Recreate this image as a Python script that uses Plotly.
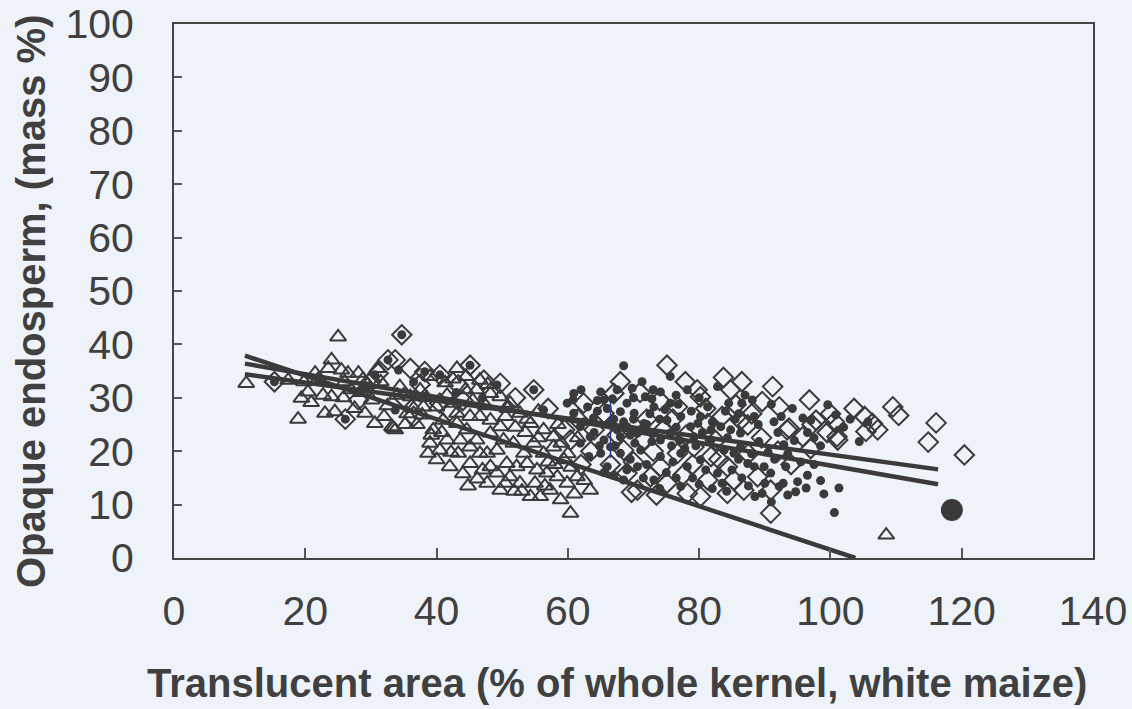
import plotly.graph_objects as go

# ---- data ----
tri_x = [11.0, 17.4, 18.9, 19.4, 20.4, 20.9, 21.5, 22.7, 23.0, 24.0, 24.0, 24.5, 25.0, 25.5, 26.5, 28.1,
         29.1, 30.1, 30.6, 33.2, 27.0, 28.5, 31.5, 32.5, 34.0, 33.7, 22.0, 25.8, 27.5, 29.5, 31.0, 26.0,
         23.5, 19.8,
         34.4, 36.0, 37.5, 38.0, 40.0, 41.6, 43.1, 44.4, 46.1, 46.6, 48.2, 49.7, 43.1, 43.1, 41.0, 45.1,
         46.6, 48.2, 49.7, 48.2, 44.6, 46.1, 43.6, 41.6, 39.0, 38.7, 40.5, 40.0, 42.0, 43.3, 45.1, 45.1,
         46.6, 47.7, 48.2, 47.7, 49.2, 49.7, 49.2, 50.2, 50.7, 51.2, 52.7, 52.2, 53.3, 51.7, 53.8, 54.3,
         55.8, 55.3, 54.8, 56.3, 57.8, 56.8, 57.3, 58.4, 58.9, 59.4, 57.8, 56.3, 54.3, 52.7, 51.2, 33.4,
         39.5, 42.5, 36.5, 60.4, 63.4, 61.4, 59.9, 61.0, 62.5, 58.0, 55.0, 53.0, 50.5, 47.0, 44.0, 39.2,
         37.0, 35.5, 41.3, 39.0, 47.5, 50.5, 55.5, 58.5, 60.0, 61.5, 53.5, 45.5, 38.5,
         42.5, 44.5, 47.8, 50.8, 53.8, 52.0, 55.5, 57.0, 59.0, 60.5, 37.8, 40.8, 42.2, 44.8, 46.2, 51.8,
         56.5, 35.2, 32.0, 28.8, 108.5]
tri_y = [32.7, 33.3, 26.0, 29.9, 31.1, 29.1, 34.6, 30.5, 27.1, 37.1, 30.2, 27.4, 41.4, 35.2, 34.6, 34.6,
         27.1, 29.6, 25.2, 24.6, 31.5, 31.0, 33.0, 28.5, 30.5, 24.0, 33.5, 30.0, 28.0, 32.5, 35.5, 33.0,
         35.5, 33.0,
         32.1, 30.2, 31.5, 28.3, 28.3, 30.5, 35.5, 31.5, 31.5, 33.3, 30.8, 30.2, 27.1, 25.2, 25.8, 26.5,
         26.5, 25.8, 24.6, 23.4, 24.0, 22.1, 22.1, 22.1, 21.5, 19.6, 20.2, 18.4, 17.1, 19.6, 17.7, 20.8,
         19.6, 19.6, 17.1, 14.0, 15.9, 12.7, 20.2, 22.1, 17.7, 15.2, 14.0, 17.1, 19.6, 21.5, 17.7, 11.5,
         11.5, 16.5, 21.5, 19.6, 20.8, 15.9, 12.7, 15.2, 10.9, 18.4, 22.7, 24.0, 25.2, 27.1, 29.0, 24.3,
         24.0, 29.0, 28.0, 8.4, 12.7, 15.2, 14.0, 12.0, 14.5, 17.5, 14.0, 12.5, 14.0, 16.5, 15.8, 23.0,
         25.0, 27.0, 32.8, 34.0, 28.5, 26.5, 27.5, 25.0, 19.5, 22.5, 23.5, 29.5, 30.0,
         33.5, 34.0, 32.5, 28.0, 26.0, 24.5, 22.5, 18.0, 21.5, 17.0, 26.8, 23.5, 19.8, 13.5, 14.8, 12.5,
         13.5, 25.0, 26.5, 33.5, 4.3]

dia_x = [15.3, 26.1, 28.1, 31.1, 32.6, 33.7, 34.7, 36.0, 36.5, 38.2, 40.5, 43.3, 45.1, 47.2, 49.7, 54.8,
         30.0, 35.0, 40.5, 42.0, 44.0, 37.5, 52.0, 57.0, 59.5,
         60.4, 62.4, 65.5, 67.0, 64.0, 68.5, 69.0, 70.6, 71.6, 72.6, 74.1, 75.1, 75.1, 76.7, 76.7, 77.9,
         78.2, 79.2, 79.7, 80.2, 80.2, 81.3, 81.3, 81.8, 83.7, 83.5, 84.8, 85.6, 86.3, 87.4, 89.6, 91.2,
         92.2, 93.7, 95.8, 96.8, 97.8, 100.6, 101.1, 103.6, 105.2, 106.4, 107.2, 105.4, 109.5, 110.4,
         116.1, 114.9, 120.4, 90.9, 84.3, 85.3, 86.8, 90.9, 84.3, 88.9, 69.7, 73.0, 70.0, 66.5, 63.5,
         72.0, 74.5, 78.0, 82.5, 77.5, 79.0, 83.0, 87.5, 89.5, 88.0, 68.0, 71.0, 74.0, 86.5, 92.0, 94.0,
         97.0, 99.5, 61.5, 67.5, 76.0, 81.0, 73.5, 62.0, 101.0, 93.4, 97.2, 100.0]
dia_y = [33.0, 26.0, 29.6, 34.6, 37.1, 37.1, 41.8, 35.5, 26.5, 34.9, 34.3, 32.4, 36.1, 33.3, 32.7, 31.5,
         33.0, 30.0, 29.0, 27.5, 29.5, 32.5, 30.0, 28.0, 24.0,
         22.1, 29.0, 27.1, 30.8, 24.0, 20.2, 15.9, 12.7, 22.1, 15.2, 17.1, 14.0, 36.1, 19.6, 28.3, 33.0,
         12.1, 20.8, 31.5, 11.5, 30.2, 14.6, 25.2, 19.0, 33.8, 26.5, 31.5, 28.7, 25.8, 24.9, 29.3, 32.1,
         28.3, 24.3, 22.7, 29.6, 25.8, 25.5, 22.1, 28.0, 26.5, 25.2, 24.0, 23.7, 28.3, 26.7,
         25.3, 21.7, 19.3, 8.4, 17.1, 14.6, 12.7, 12.7, 12.1, 15.2, 12.3, 20.0, 18.0, 17.5, 20.0,
         26.0, 24.0, 23.0, 22.0, 15.5, 17.5, 18.5, 19.5, 22.5, 27.0, 33.0, 31.0, 29.5, 33.0, 20.0, 17.5,
         20.5, 23.5, 26.0, 23.0, 26.0, 28.0, 11.8, 17.5, 22.7, 24.0, 25.0, 27.0]

dot_x = [15.3, 26.1, 32.6, 34.7, 38.2, 45.1, 54.8, 30.6, 34.2, 33.7, 40.5, 49.2, 56.3, 36.5, 43.0, 28.5,
         22.0, 47.0,
         68.5, 60.9, 60.8, 59.9, 65.0, 65.5, 71.3, 74.1, 71.8, 69.0, 68.0, 70.1, 73.1, 75.6, 77.2, 75.1,
         71.6, 69.0, 66.5, 63.9, 61.9, 60.9, 63.0, 63.4, 65.5, 68.0, 70.6, 73.1, 74.1, 75.6, 78.7, 80.2,
         79.2, 81.8, 83.3, 81.3, 82.8, 75.6, 78.2, 66.5, 65.0, 68.0, 71.1, 74.1, 77.2, 78.2, 80.2, 77.2,
         73.1, 68.5, 66.0, 70.6, 82.8, 83.8, 61.9,
         88.1, 94.2, 99.6, 100.8, 95.8, 97.0, 91.4, 105.7, 104.4, 92.9, 89.1, 93.2, 96.5, 95.0, 96.3, 93.5,
         94.7, 92.2, 92.8, 89.6, 101.3, 100.6, 90.9, 89.9, 88.4, 87.4, 85.3, 84.8, 86.3, 88.4, 84.3, 86.3,
         67.0, 68.5, 70.0, 71.0, 72.0, 69.5, 67.5, 72.5, 66.0, 64.5, 62.5, 64.0, 74.0, 76.5, 77.0, 79.5,
         80.5, 82.0, 84.0, 85.5, 86.5, 87.0, 80.0, 76.5, 73.0, 70.0, 67.5, 62.0, 65.5, 67.0, 69.5, 72.0,
         75.0, 76.0, 79.0, 81.0, 82.0, 83.5, 85.0, 86.5, 87.5, 88.5, 90.0, 91.5, 93.5, 95.5, 97.5, 98.5,
         99.0, 91.0, 84.5, 89.0, 92.5, 96.5, 98.5, 102.0, 103.0,
         64.5, 66.8, 69.8, 72.8, 74.8, 76.8, 78.8, 79.8, 81.8, 77.8, 75.8, 72.8, 70.2, 67.2, 64.8, 63.2,
         69.0, 71.5, 74.0, 76.5, 80.0, 84.2, 86.0, 88.0, 90.5, 92.0, 94.5, 97.5, 91.0, 86.0]
dot_y = [33.0, 26.0, 37.1, 41.8, 34.9, 36.1, 31.5, 34.3, 35.2, 27.7, 34.3, 32.4, 27.7, 33.0, 31.0, 31.5,
         33.5, 30.0,
         36.0, 30.8, 29.6, 29.0, 31.1, 29.6, 33.0, 31.1, 30.2, 29.0, 27.4, 27.1, 28.3, 29.0, 26.5, 25.8,
         25.2, 24.6, 25.2, 26.2, 24.6, 27.1, 28.3, 22.7, 22.1, 22.7, 23.4, 23.4, 22.1, 23.4, 24.6, 26.5,
         22.7, 22.1, 24.6, 28.3, 32.1, 34.0, 31.5, 20.8, 19.6, 19.6, 20.2, 19.0, 19.6, 17.1, 18.4, 13.4,
         14.6, 14.6, 17.1, 17.1, 15.9, 20.2, 21.5,
         29.6, 28.0, 28.7, 26.8, 26.2, 25.8, 25.5, 25.5, 21.8, 21.2, 21.8, 17.1, 15.5, 14.3, 13.1, 11.8,
         12.4, 13.4, 14.0, 12.1, 13.1, 8.5, 15.9, 17.1, 17.1, 17.7, 19.6, 24.0, 23.4, 26.5, 22.5, 20.8,
         26.0, 25.5, 26.0, 24.0, 25.0, 23.0, 24.0, 27.0, 28.0, 27.5, 25.5, 23.5, 26.0, 24.5, 22.0, 21.0,
         23.5, 25.5, 27.5, 26.0, 29.0, 30.5, 30.0, 30.5, 31.5, 30.0, 31.5, 31.5, 16.0, 15.5, 18.5, 17.5,
         16.0, 18.0, 15.0, 16.5, 13.0, 14.0, 16.5, 15.0, 13.5, 11.5, 14.0, 18.5, 19.5, 18.0, 17.5, 14.5,
         12.0, 10.5, 29.0, 25.0, 26.5, 23.5, 21.0, 24.5, 26.0,
         29.5, 29.8, 31.8, 29.8, 27.8, 28.8, 27.5, 25.2, 24.0, 20.5, 21.0, 21.8, 21.5, 21.0, 21.0, 19.0,
         16.5, 15.0, 13.0, 15.0, 13.8, 12.5, 18.5, 19.5, 19.8, 23.5, 22.0, 22.5, 28.8, 27.0]

big_x = [118.5]
big_y = [9.0]

# regression lines (end points)
line_names = ["triangles fit", "dots fit", "diamonds fit"]
line_x0 = [10.8, 10.8, 10.8]
line_y0 = [37.9, 36.4, 34.4]
line_x1 = [103.8, 116.4, 116.4]
line_y1 = [0.0, 13.8, 16.6]

# thin blue vertical mark
mark_x = [66.5, 66.5]
mark_y = [18.7, 29.3]

x_ticks = [0, 20, 40, 60, 80, 100, 120, 140]
y_ticks = [0, 10, 20, 30, 40, 50, 60, 70, 80, 90, 100]

x_title = "Translucent area (% of whole kernel, white maize)"
y_title = "Opaque endosperm, (mass %)"

INK = "#3a3a3a"
TXT = "#404040"
BG = "#eef3f9"
FONT = "Liberation Sans, Arial, sans-serif"

fig = go.Figure()
fig.add_trace(go.Scatter(x=tri_x, y=tri_y, mode="markers", name="triangles",
                         marker=dict(symbol="triangle-up-open", size=14, color=INK,
                                     line=dict(width=2, color=INK))))
fig.add_trace(go.Scatter(x=dia_x, y=dia_y, mode="markers", name="diamonds",
                         marker=dict(symbol="diamond-open", size=15, color=INK,
                                     line=dict(width=2, color=INK))))
fig.add_trace(go.Scatter(x=dot_x, y=dot_y, mode="markers", name="dots",
                         marker=dict(symbol="circle", size=9, color=INK, line=dict(width=0))))
fig.add_trace(go.Scatter(x=mark_x, y=mark_y, mode="lines", line=dict(color="#2b3f9a", width=1.5),
                         hoverinfo="skip"))
for i in range(len(line_names)):
    fig.add_trace(go.Scatter(x=[line_x0[i], line_x1[i]], y=[line_y0[i], line_y1[i]], mode="lines",
                             name=line_names[i], line=dict(color=INK, width=4.5)))
fig.add_trace(go.Scatter(x=big_x, y=big_y, mode="markers", name="mean",
                         marker=dict(symbol="circle", size=22, color=INK, line=dict(width=0))))

fig.update_layout(
    width=1132, height=709,
    margin=dict(l=174, r=39, t=24, b=151, autoexpand=False),
    paper_bgcolor=BG, plot_bgcolor=BG,
    showlegend=False,
    font=dict(family=FONT, color=TXT),
    annotations=[
        dict(text="<b>" + x_title + "</b>", xref="paper", yref="paper",
             x=(617 - 174) / (1093 - 174), y=-(683 - 558) / (558 - 24),
             xanchor="center", yanchor="middle", showarrow=False,
             font=dict(size=40, family=FONT, color=TXT)),
        dict(text="<b>" + y_title + "</b>", xref="paper", yref="paper",
             x=-(174 - 31) / (1093 - 174), y=(558 - 302) / (558 - 24),
             xanchor="center", yanchor="middle", textangle=-90, showarrow=False,
             font=dict(size=40, family=FONT, color=TXT)),
    ],
)
fig.update_xaxes(
    range=[0, 140], tickvals=x_ticks, ticktext=[str(v) for v in x_ticks],
    showgrid=False, zeroline=False, automargin=False,
    showline=True, mirror=True, linecolor="#444444", linewidth=2,
    ticks="inside", ticklen=10, tickwidth=1.5, tickcolor="#555555",
    tickfont=dict(size=41, family=FONT, color=TXT),
    ticklabelstandoff=16,
)
fig.update_yaxes(
    range=[0, 100], tickvals=y_ticks, ticktext=[str(v) for v in y_ticks],
    showgrid=False, zeroline=False, automargin=False,
    showline=True, mirror=True, linecolor="#444444", linewidth=2,
    ticks="inside", ticklen=8, tickwidth=1.5, tickcolor="#555555",
    tickfont=dict(size=41, family=FONT, color=TXT),
    ticklabelstandoff=30,
)

fig.write_html(
    "out.html",
    config={"displayModeBar": False},
    post_script="document.body.style.margin='0';document.body.style.background='" + BG + "';",
)
